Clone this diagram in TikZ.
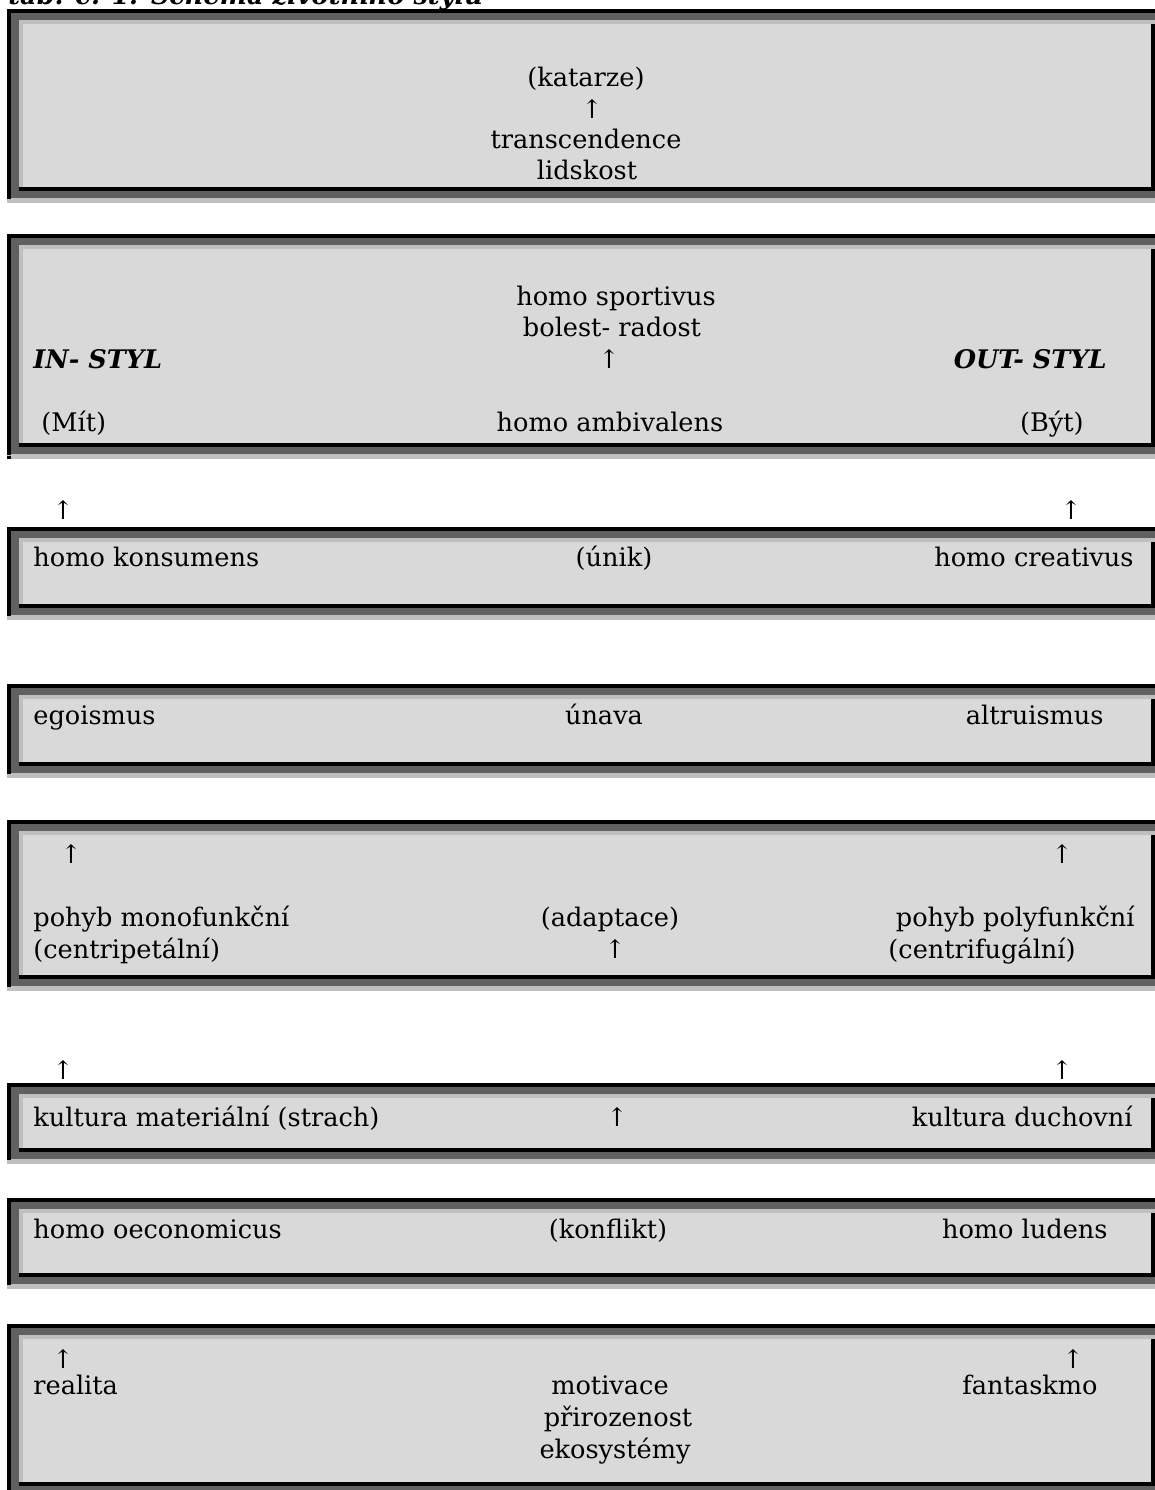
\documentclass[tikz,border=0pt]{standalone}
\usepackage{fontspec}
\setmainfont{DejaVu Serif}
\definecolor{dg}{HTML}{606060}
\definecolor{lg}{HTML}{BFBFBF}
\definecolor{fillc}{HTML}{D9D9D9}
\newcommand\tribox[2]{%
 \fill[lg] (7,#1) rectangle (1155,#2+16);
 \fill[black] (7,#1) rectangle (1155,#1+4);
 \fill[black] (7,#1) rectangle (11,#2+12);
 \fill[dg] (11,#1+4) rectangle (1155,#1+11);
 \fill[dg] (11,#1+4) rectangle (19,#2+11);
 \fill[dg] (11,#2+4) rectangle (1155,#2+11);
 \fill[black] (19,#2) rectangle (1155,#2+4);
 \fill[black] (1151,#1+15) rectangle (1155,#2+4);
 \fill[fillc] (23,#1+15) rectangle (1151,#2);
}
\tikzset{
 txt/.style={inner sep=0pt, font=\fontsize{12.8}{15.5}\selectfont},
 lt/.style={txt, anchor=base west},
 rt/.style={txt, anchor=base east},
 ct/.style={txt, anchor=base},
 bi/.style={font=\fontsize{12.8}{15.5}\selectfont\bfseries\itshape}
}
\begin{document}
\begin{tikzpicture}[x=0.5pt,y=-0.5pt]
\useasboundingbox (0,0) rectangle (1155,1490);
\clip (0,0) rectangle (1155,1490);
\node[lt,bi] (title) at (8,4) {tab. č. 1: Schéma životního stylu};
% boxes
\tribox{9}{187}
\tribox{234}{443}
\fill[black] (7,456) rectangle (11,459);
\tribox{527}{604}
\tribox{684}{762}
\tribox{820}{975}
\tribox{1083}{1148}
\tribox{1198}{1273}
\tribox{1324}{1482}
% box 1
\node[ct] (katarze) at (586,86) {(katarze)};
\node[ct] (a1) at (592,118) {↑};
\node[ct] (transc) at (586,148) {transcendence};
\node[ct] (lidskost) at (587,179) {lidskost};
% box 2
\node[ct] (sport) at (616,305) {homo sportivus};
\node[ct] (bolest) at (612,336) {bolest- radost};
\node[ct] (a2) at (609,368) {↑};
\node[ct] (ambi) at (610,431) {homo ambivalens};
\node[lt,bi] (instyl) at (33,368) {IN- STYL};
\node[rt,bi] (outstyl) at (1107,368) {OUT- STYL};
\node[lt] (mit) at (41,431) {(Mít)};
\node[rt] (byt) at (1084,431) {(Být)};
% between 2 and 3
\node[ct] (a3l) at (63,519) {↑};
\node[ct] (a3r) at (1071,519) {↑};
% box 3
\node[lt] (konsum) at (33,566) {homo konsumens};
\node[ct] (unik) at (614,566) {(únik)};
\node[rt] (creat) at (1134,566) {homo creativus};
% box 4
\node[lt] (ego) at (33,724) {egoismus};
\node[ct] (unava) at (604,724) {únava};
\node[rt] (altru) at (1104,724) {altruismus};
% box 5
\node[ct] (a5l) at (71,863) {↑};
\node[ct] (a5r) at (1062,863) {↑};
\node[lt] (mono) at (33,926) {pohyb monofunkční};
\node[ct] (adapt) at (610,926) {(adaptace)};
\node[rt] (poly) at (1135,926) {pohyb polyfunkční};
\node[lt] (centrip) at (33,958) {(centripetální)};
\node[ct] (a5c) at (615,958) {↑};
\node[rt] (centrif) at (1076,958) {(centrifugální)};
% between 5 and 6
\node[ct] (a6l) at (63,1079) {↑};
\node[ct] (a6r) at (1062,1079) {↑};
% box 6
\node[lt] (matl) at (33,1126) {kultura materiální (strach)};
\node[ct] (a6c) at (617,1126) {↑};
\node[rt] (duch) at (1133,1126) {kultura duchovní};
% box 7
\node[lt] (oecon) at (33,1238) {homo oeconomicus};
\node[ct] (konfl) at (608,1238) {(konflikt)};
\node[rt] (ludens) at (1108,1238) {homo ludens};
% box 8
\node[ct] (a8l) at (63,1368) {↑};
\node[ct] (a8r) at (1073,1368) {↑};
\node[lt] (realita) at (33,1394) {realita};
\node[ct] (motiv) at (610,1394) {motivace};
\node[ct] (priroz) at (618,1426) {přirozenost};
\node[ct] (ekosys) at (615,1458) {ekosystémy};
\node[rt] (fantask) at (1098,1394) {fantaskmo};
\end{tikzpicture}
\end{document}
